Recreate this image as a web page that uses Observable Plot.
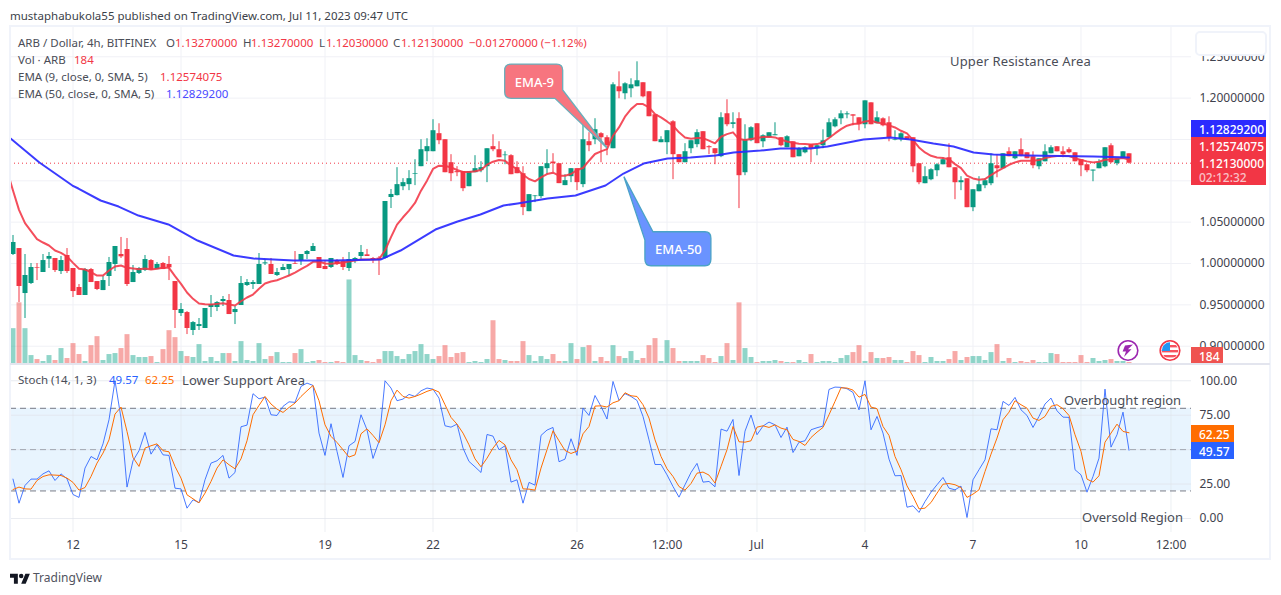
<!DOCTYPE html>
<html><head><meta charset="utf-8">
<script src="https://cdn.jsdelivr.net/npm/d3@7"></script>
<script src="https://cdn.jsdelivr.net/npm/@observablehq/plot@0.6"></script>
<style>
html,body{margin:0;padding:0;background:#fff;width:1281px;height:595px;overflow:hidden}
#chart{position:relative;width:1281px;height:595px;font-family:"Noto Sans",sans-serif;overflow:hidden}
#chart svg{position:absolute;left:0;top:0}
.t{position:absolute;white-space:nowrap;line-height:13px;transform:translateY(-6.5px);font-size:11.5px;color:#4a4d57}
.b{position:absolute;box-sizing:border-box}
</style></head><body><div id="chart"></div>
<script>
const open=[1.0109,1.0181,.9637,.9758,.9952,.9891,1.0052,1.0061,.9903,1.0097,
.9940,.9710,.9613,.9927,.9782,.9673,.9843,.9988,1.0109,1.0169,
.9770,.9879,.9915,1.0036,.9927,1.0000,.9988,.9782,.9395,.9407,
.9190,.9238,.9214,.9468,.9468,.9540,.9553,.9407,.9492,.9734,
.9746,.9746,.9996,.9988,.9855,.9915,.9927,1.0000,1.0036,1.0109,
1.0145,1.0073,.9964,.9952,1.0036,1.0024,.9940,1.0036,1.0085,1.0105,
1.0061,1.0065,1.0061,1.0798,1.0821,1.0929,1.0954,1.1078,1.1171,1.1352,
1.1352,1.1570,1.1497,1.1219,1.1111,1.1111,1.0929,1.1098,1.1123,1.1171,
1.1413,1.1376,1.1304,1.1304,1.1159,1.1086,1.0627,1.0809,1.0809,1.1147,
1.1227,1.1207,1.0942,1.1050,1.1147,1.0954,1.1473,1.1497,1.1570,1.1521,
1.1388,1.2137,1.2053,1.2113,1.2137,1.2186,1.2077,1.1799,1.1461,1.1461,
1.1714,1.1316,1.1219,1.1388,1.1437,1.1594,1.1413,1.1388,1.1292,1.1811,
1.1682,1.1751,1.1098,1.1485,1.1690,1.1472,1.1521,1.1545,1.1521,1.1400,
1.1472,1.1291,1.1339,1.1436,1.1388,1.1424,1.1521,1.1653,1.1750,1.1798,
1.1798,1.1762,1.1678,1.1943,1.1690,1.1750,1.1702,1.1488,1.1496,1.1533,
1.1521,1.1207,1.0965,1.1013,1.1122,1.1194,1.1279,1.1158,1.0977,1.1025,
1.0675,1.0868,1.0941,1.0965,1.1182,1.1146,1.1351,1.1267,1.1376,1.1339,
1.1291,1.1170,1.1230,1.1327,1.1412,1.1351,1.1376,1.1339,1.1255,1.1194,
1.1118,1.1146,1.1170,1.1424,1.1207,1.1267,1.1327];
const close=[1.0254,.9722,.9855,.9952,.9944,1.0036,1.0085,.9915,1.0036,.9903,
.9661,.9613,.9927,.9770,.9686,.9794,1.0012,1.0206,1.0081,.9746,
.9891,.9940,1.0048,.9919,.9988,.9927,.9948,.9432,.9444,.9214,
.9286,.9262,.9456,.9504,.9528,.9565,.9383,.9444,.9758,.9770,
.9770,.9988,1.0008,.9867,.9891,.9952,.9988,.9992,1.0109,1.0145,
1.0206,.9940,.9927,1.0061,.9988,.9952,1.0048,1.0061,1.0133,1.0085,
1.0044,1.0044,1.0750,1.0835,1.0954,1.0978,1.1026,1.1086,1.1376,1.1413,
1.1606,1.1485,1.1098,1.1086,1.1098,1.0905,1.1111,1.1147,1.1159,1.1388,
1.1376,1.1279,1.1312,1.1074,1.1086,1.0676,1.0833,1.0817,1.1171,1.1207,
1.1207,1.0966,1.1002,1.1147,1.0978,1.1497,1.1425,1.1618,1.1521,1.1425,
1.2161,1.2077,1.2173,1.2161,1.2210,1.2016,1.1775,1.1473,1.1497,1.1606,
1.1316,1.1219,1.1352,1.1485,1.1582,1.1376,1.1400,1.1328,1.1763,1.1678,
1.1702,1.1062,1.1497,1.1642,1.1449,1.1545,1.1581,1.1557,1.1424,1.1533,
1.1279,1.1388,1.1400,1.1388,1.1424,1.1484,1.1702,1.1738,1.1810,1.1810,
1.1782,1.1678,1.1967,1.1678,1.1762,1.1665,1.1521,1.1496,1.1569,1.1496,
1.1170,1.0977,1.1050,1.1134,1.1194,1.1255,1.1158,1.0977,1.1001,1.0675,
1.0892,1.0953,1.1001,1.1207,1.1146,1.1327,1.1291,1.1351,1.1303,1.1267,
1.1182,1.1267,1.1351,1.1400,1.1351,1.1315,1.1339,1.1230,1.1182,1.1122,
1.1130,1.1219,1.1400,1.1219,1.1267,1.1351,1.1213];
const high=[1.0339,1.0181,1.0109,1.0000,1.0000,1.0109,1.0133,1.0061,1.0085,1.0181,
.9940,.9746,.9940,.9940,.9782,.9843,1.0073,1.0206,1.0315,1.0302,
.9976,.9952,1.0097,1.0048,1.0012,1.0012,1.0085,.9782,.9516,.9419,
.9298,.9335,.9456,.9613,.9540,.9601,.9625,.9480,.9843,.9806,
.9794,1.0121,1.0048,1.0061,.9940,.9988,.9988,1.0145,1.0109,1.0157,
1.0242,1.0073,1.0036,1.0061,1.0048,1.0073,1.0133,1.0073,1.0218,1.0170,
1.0073,1.0085,1.0750,1.0895,1.1159,1.1026,1.1123,1.1255,1.1497,1.1509,
1.1739,1.1690,1.1497,1.1316,1.1171,1.1111,1.1111,1.1304,1.1231,1.1388,
1.1557,1.1473,1.1352,1.1316,1.1231,1.1171,1.0833,1.0821,1.1171,1.1376,
1.1328,1.1207,1.1074,1.1147,1.1147,1.1727,1.1582,1.1751,1.1582,1.1545,
1.2186,1.2318,1.2186,1.2234,1.2439,1.2186,1.2077,1.1799,1.1533,1.1606,
1.1727,1.1316,1.1449,1.1485,1.1618,1.1594,1.1425,1.1388,1.1823,1.1980,
1.1823,1.1823,1.1678,1.1654,1.1690,1.1557,1.1581,1.1702,1.1521,1.1545,
1.1472,1.1400,1.1412,1.1436,1.1436,1.1617,1.1750,1.1762,1.1847,1.1835,
1.1798,1.1762,1.1967,1.1943,1.1835,1.1762,1.1774,1.1605,1.1581,1.1533,
1.1521,1.1207,1.1170,1.1146,1.1207,1.1279,1.1448,1.1158,1.1050,1.1025,
1.0892,1.1050,1.1025,1.1327,1.1315,1.1327,1.1400,1.1351,1.1508,1.1339,
1.1351,1.1267,1.1436,1.1424,1.1412,1.1412,1.1400,1.1339,1.1255,1.1194,
1.1130,1.1255,1.1400,1.1448,1.1267,1.1351,1.1327];
const low=[1.0097,.9528,.9335,.9746,.9794,.9891,.9940,.9891,.9867,.9879,
.9589,.9613,.9613,.9770,.9673,.9673,.9722,.9903,1.0061,.9722,
.9770,.9867,.9903,.9915,.9927,.9927,.9794,.9214,.9359,.9141,
.9129,.9190,.9214,.9347,.9419,.9480,.9383,.9262,.9492,.9722,
.9686,.9746,.9976,.9867,.9843,.9915,.9843,.9988,.9976,1.0048,
1.0145,.9940,.9927,.9940,.9976,.9915,.9903,1.0000,1.0048,1.0085,
1.0000,.9855,1.0052,1.0665,1.0817,1.0881,1.0881,1.0942,1.1171,1.1231,
1.1352,1.1437,1.1098,1.0990,1.1050,1.0869,1.0929,1.1098,1.1098,1.0978,
1.1352,1.1279,1.1195,1.1074,1.1086,1.0579,1.0627,1.0736,1.0784,1.1074,
1.1098,1.0966,1.0942,1.0978,1.0881,1.0917,1.1352,1.1437,1.1219,1.1304,
1.1388,1.1992,1.1980,1.2004,1.2137,1.2004,1.1775,1.1473,1.1461,1.1316,
1.1014,1.1219,1.1219,1.1328,1.1400,1.1376,1.1316,1.1195,1.1280,1.1654,
1.1630,1.0664,1.1062,1.1473,1.1449,1.1400,1.1521,1.1545,1.1412,1.1400,
1.1279,1.1291,1.1327,1.1219,1.1303,1.1388,1.1521,1.1641,1.1678,1.1750,
1.1665,1.1605,1.1629,1.1678,1.1690,1.1653,1.1472,1.1484,1.1472,1.1496,
1.1098,1.0953,1.0965,1.1001,1.1050,1.1194,1.1158,1.0772,1.0881,1.0675,
1.0627,1.0868,1.0905,1.0941,1.1037,1.1146,1.1291,1.1255,1.1291,1.1267,
1.1146,1.1134,1.1230,1.1327,1.1351,1.1279,1.1327,1.1230,1.1050,1.1098,
1.0989,1.1146,1.1158,1.1207,1.1182,1.1267,1.1203];
const volume=[6410,11160,6410,1460,730,368,1460,550,2750,915,
3660,1650,368,3290,4940,550,1650,1830,2750,5310,
1460,1100,1100,1280,184,2560,6040,4760,2200,1280,
1100,3480,368,1100,368,1830,1830,368,4030,550,
368,3660,730,1280,2010,184,184,1830,2560,184,
368,550,184,184,368,184,15370,1460,550,368,
184,730,2200,2200,1280,730,1650,2200,3480,1650,
730,1280,3290,1100,1830,2010,184,368,184,730,
7870,730,550,368,368,4030,1460,368,1280,730,
1650,368,368,3660,730,2930,3290,368,1100,368,
3290,1280,915,2200,550,915,3290,4580,368,4210,
2750,368,368,368,368,1460,915,184,1280,3660,
550,11160,2750,1100,184,368,368,550,368,184,
184,550,184,1650,184,368,368,184,915,1460,
2010,3290,368,2010,915,915,1100,550,550,184,
2200,1460,184,1100,368,368,730,2200,550,1100,
1280,1280,550,2010,3480,368,915,184,368,184,
550,184,184,1830,1650,184,184,184,1460,184,
915,368,550,730,368,368,184];
const ema9Start=-1;
const ema9=[1.1125,1.0883,1.0649,1.0488,1.0391,1.0294,1.0254,1.0218,1.0157,1.0129,1.0085,
1.0008,.9936,.9927,.9895,.9855,.9855,.9915,.9964,.9976,.9948,
.9940,.9932,.9940,.9927,.9936,.9948,.9948,.9847,.9754,.9649,
.9573,.9516,.9508,.9504,.9512,.9520,.9504,.9492,.9544,.9589,
.9625,.9694,.9758,.9782,.9798,.9827,.9855,.9891,.9932,.9972,
1.0020,1.0024,1.0000,.9996,1.0004,1.0012,1.0024,1.0036,1.0048,1.0048,
1.0048,1.0052,1.0157,1.0319,1.0470,1.0559,1.0640,1.0732,1.0881,1.1002,
1.1143,1.1183,1.1179,1.1163,1.1131,1.1107,1.1107,1.1115,1.1131,1.1195,
1.1231,1.1251,1.1243,1.1183,1.1143,1.1074,1.1022,1.0994,1.1042,1.1082,
1.1098,1.1062,1.1062,1.1082,1.1131,1.1155,1.1243,1.1324,1.1356,1.1384,
1.1545,1.1646,1.1775,1.1867,1.1928,1.1928,1.1888,1.1807,1.1767,1.1718,
1.1666,1.1586,1.1525,1.1509,1.1517,1.1517,1.1485,1.1453,1.1533,1.1565,
1.1586,1.1505,1.1493,1.1505,1.1517,1.1530,1.1533,1.1525,1.1496,1.1476,
1.1460,1.1448,1.1444,1.1440,1.1444,1.1464,1.1517,1.1573,1.1625,1.1666,
1.1686,1.1694,1.1718,1.1726,1.1706,1.1694,1.1670,1.1645,1.1605,1.1573,
1.1492,1.1404,1.1343,1.1303,1.1283,1.1275,1.1259,1.1202,1.1154,1.1062,
1.1029,1.1013,1.1021,1.1070,1.1114,1.1154,1.1194,1.1223,1.1243,1.1243,
1.1243,1.1251,1.1275,1.1291,1.1299,1.1299,1.1299,1.1275,1.1251,1.1235,
1.1223,1.1231,1.1255,1.1259,1.1267,1.1275,1.1257];
const ema50Bars=[-0.4,4.4,9.9,10.9,14.6,17.6,20.9,25.9,30.75,36.75,40.1,46.75,53.4,61.25,64.6,70.4,74.1,77.9,81.75,84.1,89.1,93.75,98.75,101.75,105.1,109.1,112.9,117.1,120.1,124.6,127.9,132.9,135.75,141.75,146.25,149.6,153.4,156.75,160.1,163.4,169.1,180.1,186];
const ema50=[1.1512,1.1221,1.0943,1.0907,1.0762,1.0689,1.0580,1.0472,1.0278,1.0097,1.0060,1.0036,1.0036,1.0048,1.0157,1.0411,1.0508,1.0593,1.0701,1.0726,1.0786,1.0822,1.0943,1.1088,1.1209,1.1270,1.1282,1.1306,1.1342,1.1366,1.1391,1.1391,1.1415,1.1499,1.1524,1.1499,1.1451,1.1415,1.1342,1.1318,1.1306,1.1294,1.1283];
const stochK=[28.6,11.1,24,28.6,28.6,32.4,34.6,27.6,32.4,28.8,
17.4,15.3,36.6,45,42.6,54.2,71.7,100,72.9,22.8,
41.9,49.2,62.5,46.7,53.5,46.2,45.8,22,21.5,7.5,
13.6,11.4,28.1,40.2,41.9,45.8,29.3,33.4,66.6,67.8,
90.6,86.9,88.1,75.3,74.8,81.4,84.7,84.3,95.9,98.3,
96.6,62,45.8,68.8,48.7,29.8,52.8,55.9,75.3,64.4,
43.6,55.9,100,94.7,85.5,86.7,90.1,88.6,92.7,94.7,
93.9,87.4,67.3,66.3,68.5,51.1,41.4,37.5,33.4,61,
59.8,49.9,52.8,26.4,28.1,11.1,26.2,24.2,60.3,64.2,
66.1,41.2,43.1,57.9,45.8,80.1,74.8,89.3,81.4,72.2,
99.5,85.7,90.6,88.6,85.7,74.1,57.1,39.2,39.2,31.7,
23.2,15.5,24.5,33.4,40,26.4,26.9,23,64.9,63.4,
71.9,31.2,63.4,75.1,60.8,67.1,70,68,58.8,66.3,
47.9,55.4,56.4,64.4,65.9,67.1,93.7,95.4,95.2,94.2,
91.5,78.9,100,64.4,74.1,62,43.1,31,31.2,8.2,
9.2,4.4,12.3,19.1,24.5,29.8,22,20.8,23.5,0.7,
28.1,35.4,42.6,65.1,64.4,85,82.1,87.9,78.9,74.8,
66.1,74.1,83.1,87.4,78.2,73.6,73.4,35.4,31.7,19.1,
30.5,43.8,93.9,51.8,60.8,77.2,49.57];
const stochD=[21,22.8,21.5,21.3,27.6,30.5,31.7,31.5,31.2,29.3,
26.2,20.6,22.5,30.5,40.2,47.5,57.1,75.8,80.9,63.2,
44.3,37.8,51.1,52.8,54.2,49.2,48.4,37.8,29.3,17.2,
14.3,11.4,18.4,26.9,36.6,42.6,39,36.1,43.3,56.4,
75.3,82.1,88.6,83.1,79.4,77,80.6,83.8,88.6,92.7,
96.6,85.5,68,59.6,55.2,49.9,44.6,46.2,61.5,65.1,
60.3,55,68,85.5,93.2,88.6,87.4,88.6,90.3,92.3,
93.7,91.8,82.6,73.4,68.5,62,53.5,43.3,37.5,43.8,
51.1,56.7,53.5,42.6,35.4,21.5,21.3,20.6,36.6,49.9,
63.7,56.4,49.4,47.2,48.9,61.5,66.8,81.6,81.8,80.9,
84,85.5,91.3,89.1,88.6,82.6,72.9,57.1,45,36.1,
30.5,23.2,20.6,25.4,32.9,33.7,31.5,25.7,37.8,49.9,
66.8,55.7,55.4,56.4,66.3,67.3,66.1,68,65.6,64.4,
57.4,55.9,53,58.8,62.7,66.1,75.3,85,94.9,94.7,
93.2,88.1,90.1,80.9,79.7,66.8,60.3,45,35.4,23.7,
16,7,7.5,11.6,18.4,24.9,25.4,24.5,22.5,15.3,
17.7,20.8,34.1,46.7,58.4,71.7,77.2,85.5,82.6,80.1,
72.9,71.2,74.1,81.4,82.6,79.7,74.8,60.8,48.7,28.6,
26.4,31,55.4,62,68.5,63.2,62.25];
const timeTickBars=[10,28,52,70,94,109,124,142,160,178,193];
const timeTickLabels=["12","15","19","22","26","12:00","Jul","4","7","10","12:00"];
const priceTicks=[0.9,0.95,1,1.05,1.1,1.15,1.2,1.25];
const priceLabelTicks=[0.9,0.95,1,1.05,1.2,1.25];
const stochTicks=[0,25,50,75,100];
const stochLabelTicks=[0,25,75,100];
const lastPrice=1.1213;

const GREEN="#089981",RED="#f23645",GRID="#f0f1f6",AXIS="#3f424d";
const FONT='"Noto Sans",sans-serif';
const bars=open.map((o,i)=>({i,open:o,close:close[i],high:high[i],low:low[i],vol:volume[i],k:stochK[i],d:stochD[i]}));
const up=bars.filter(b=>b.close>=b.open),down=bars.filter(b=>b.close<b.open);
const root=document.getElementById("chart");
const xOpts={domain:[-0.4167,196.4167],axis:null};
const base={width:1281,height:595,marginLeft:10,marginRight:90,style:{background:"transparent",fontFamily:FONT,fontSize:"12px"}};
const priceY={domain:[0.8791,1.2866],axis:null};
const pricePane={...base,marginTop:26,marginBottom:232,x:xOpts,y:priceY};

/* grid + price axis */
root.append(Plot.plot({...pricePane,marks:[
  Plot.ruleY(priceTicks,{stroke:GRID}),
  Plot.ruleX(timeTickBars,{stroke:GRID}),
  Plot.axisY(priceLabelTicks,{anchor:"right",tickSize:0,tickPadding:8,label:null,tickFormat:d3.format(".8f"),fill:AXIS,fontSize:12})
]}));
/* volume */
root.append(Plot.plot({...base,marginTop:263,marginBottom:232,x:xOpts,y:{domain:[0,18400],axis:null},marks:[
  Plot.ruleX(up,{x:"i",y1:0,y2:"vol",stroke:"#22ab94",strokeOpacity:.5,strokeWidth:5}),
  Plot.ruleX(down,{x:"i",y1:0,y2:"vol",stroke:"#ef5350",strokeOpacity:.5,strokeWidth:5})
]}));
/* callouts built from data anchors */
function callout(pts,fill,stroke){return (index,{x,y})=>{
  const p=d3.path();
  pts.forEach((c,n)=>{const X=x(c[0]),Y=y(c[1]);
    if(n===0)p.moveTo(X,Y);
    else if(c[2])p.quadraticCurveTo(x(c[2][0]),y(c[2][1]),X,Y);
    else p.lineTo(X,Y);});
  p.closePath();
  const el=document.createElementNS("http://www.w3.org/2000/svg","path");
  el.setAttribute("d",p.toString());el.setAttribute("fill",fill);el.setAttribute("stroke",stroke);el.setAttribute("stroke-width","1.3");
  return el;};}
const ema9Box=[[83.1,1.2406],[90.7,1.2406],[91.7,1.2330,[91.7,1.2406]],[91.7,1.2092],[99.08,1.1391],[90.4,1.1992],[83.1,1.1992],[82.03,1.2068,[82.03,1.1992]],[82.03,1.2330],[83.1,1.2406,[82.03,1.2406]]];
const ema50Box=[[106.75,1.0378],[115.4,1.0378],[116.4,1.0300,[116.4,1.0378]],[116.4,1.0045],[115.4,0.9967,[116.4,0.9967]],[106.4,0.9967],[105.4,1.0045,[105.4,0.9967]],[105.4,1.0278],[101.9,1.1044]];
/* candles + EMAs */
root.append(Plot.plot({...pricePane,marks:[
  Plot.ruleY([lastPrice],{stroke:RED,strokeDasharray:"1,3",strokeWidth:1}),
  Plot.ruleX(up,{x:"i",y1:"low",y2:"high",stroke:GREEN,strokeWidth:1}),
  Plot.ruleX(down,{x:"i",y1:"low",y2:"high",stroke:RED,strokeWidth:1}),
  Plot.ruleX(up,{x:"i",y1:"open",y2:"close",stroke:GREEN,strokeWidth:5}),
  Plot.ruleX(down,{x:"i",y1:"open",y2:"close",stroke:RED,strokeWidth:5}),
  Plot.line(ema9,{x:(d,i)=>i+ema9Start,y:d=>d,stroke:RED,strokeWidth:2,strokeOpacity:.88,clip:true,curve:"linear"}),
  Plot.line(ema50,{x:(d,i)=>ema50Bars[i],y:d=>d,stroke:"#2a2aff",strokeWidth:2,strokeOpacity:.92,clip:true}),
  callout(ema9Box,"#f7757f","#6aaebb"),
  callout(ema50Box,"#6a93ff","#4ba3c7"),
  Plot.text(["EMA-9"],{x:[86.9],y:[1.2190],text:d=>d,fill:"#fff",fontSize:13,fontWeight:500}),
  Plot.text(["EMA-50"],{x:[110.9],y:[1.0168],text:d=>d,fill:"#fff",fontSize:13,fontWeight:500})
]}));
/* stochastic */
root.append(Plot.plot({...base,marginTop:364,marginBottom:63,x:xOpts,y:{domain:[-10.17,111.8],axis:null},marks:[
  Plot.rectY([0],{x1:xOpts.domain[0],x2:xOpts.domain[1],y1:20,y2:80,fill:"#e8f4fe"}),
  Plot.ruleY(stochTicks,{stroke:"#dfe3ea",strokeOpacity:.7}),
  Plot.ruleX(timeTickBars,{stroke:"#dfe3ea",strokeOpacity:.55}),
  Plot.ruleY([80,20],{stroke:"#787b86",strokeDasharray:"6,4"}),
  Plot.ruleY([50],{stroke:"#787b86",strokeOpacity:.6,strokeDasharray:"6,4"}),
  Plot.line(bars,{x:"i",y:"k",stroke:"#2962ff",strokeWidth:1,strokeOpacity:.85}),
  Plot.line(bars,{x:"i",y:"d",stroke:"#ff6d00",strokeWidth:1}),
  Plot.axisY(stochLabelTicks,{anchor:"right",tickSize:0,tickPadding:8,label:null,tickFormat:d3.format(".2f"),fill:AXIS,fontSize:12}),
  Plot.axisX(timeTickBars,{anchor:"bottom",tickSize:0,tickPadding:8,label:null,tickFormat:d=>timeTickLabels[timeTickBars.indexOf(d)],fill:AXIS,fontSize:12})
]}));

/* html overlays */
function box(l,t,w,h,css){const d=document.createElement("div");d.className="b";d.style.cssText=`left:${l}px;top:${t}px;width:${w}px;height:${h}px;${css||""}`;root.append(d);return d;}
function text(s,x,y,css){const d=document.createElement("div");d.className="t";d.textContent=s;d.style.cssText=`left:${x}px;top:${y}px;${css||""}`;root.append(d);return d;}
box(9,25,1262,535,"border:2px solid #f0f3fa");
box(10,363,1260,1.5,"background:#e3e5ee");
box(1195,31,72,25,"background:#fff;border:2px solid #f0f3fa;border-radius:5px");
/* price tags */
box(1191,120,75,17,"background:#2b2bff");
box(1191,137,75,48,"background:#f23645");
box(1191,347,32,16,"background:#ef5350");
box(1191,425,43,17,"background:#ff6d00");
box(1191,442,43,17,"background:#2962ff");
const W="color:#fff;font-weight:500;font-size:12px;";
text("1.12829200",1199,128.5,W);
text("1.12574075",1199,145.5,W);
text("1.12130000",1199,162.5,W);
text("02:12:32",1199,176.5,"color:#f9c0c5;font-size:12px;font-weight:500");
text("184",1199,355.5,W);
text("62.25",1199,433.5,W);
text("49.57",1199,450.5,W);
/* header and legends */
text("mustaphabukola55 published on TradingView.com, Jul 11, 2023 09:47 UTC",10,15,"color:#3c3f49");
const R="color:#f23645",L="color:#4a4d57";
text("ARB / Dollar, 4h, BITFINEX",18,42,L);
[["O",166],["H",243],["L",319],["C",393]].forEach(([s,x])=>text(s,x,42,L));
[["1.13270000",175],["1.13270000",251],["1.12030000",326],["1.12130000",401],["−0.01270000 (−1.12%)",469]].forEach(([s,x])=>text(s,x,42,R));
text("Vol · ARB",18,59,L);text("184",74,59,R);
text("EMA (9, close, 0, SMA, 5)",18,76,L);text("1.12574075",160,76,R);
text("EMA (50, close, 0, SMA, 5)",18,93,L);text("1.12829200",166,93,"color:#4a4aff");
text("Stoch (14, 1, 3)",18,379,L);text("49.57",109,379,"color:#2962ff");text("62.25",145,379,"color:#ff6d00");
const N="font-size:13px;color:#4a4d57;";
text("Upper Resistance Area",950,61,N+"letter-spacing:.15px");
text("Lower Support Area",182,380,N+"letter-spacing:.1px");
text("Overbought region",1064,400,N);
text("Oversold Region",1082,517,N);
text("TradingView",33,577,"font-size:12px;color:#50535e");
/* logo and icons */
const icons=document.createElementNS("http://www.w3.org/2000/svg","svg");
icons.setAttribute("width",1281);icons.setAttribute("height",595);icons.style.pointerEvents="none";
icons.innerHTML=`
<g transform="translate(10,571.5) scale(.56)"><path d="M14 22H7V11H0V4h14v18zM28 22h-8l7.5-18h8L28 22z" fill="#131722"/><circle cx="20" cy="8" r="4" fill="#131722"/></g>
<circle cx="1128" cy="350.5" r="9.8" fill="#fff" stroke="#9c27b0" stroke-width="1.6"/>
<path d="M1133 344.5l-8 1-2.4 6h3.4l-2 5.5 7.5-7.8h-3.6z" fill="#9c27b0"/>
<clipPath id="fl"><circle cx="1170" cy="350.5" r="8.2"/></clipPath>
<circle cx="1170" cy="350.5" r="9.8" fill="#fff" stroke="#f23645" stroke-width="1.6"/>
<g clip-path="url(#fl)"><rect x="1160" y="345" width="20" height="2.4" fill="#f7525f"/><rect x="1160" y="350" width="20" height="2.4" fill="#f7525f"/><rect x="1160" y="355" width="20" height="2.4" fill="#f7525f"/><rect x="1160" y="341" width="10" height="10" fill="#2196f3"/></g>`;
root.append(icons);
</script></body></html>
